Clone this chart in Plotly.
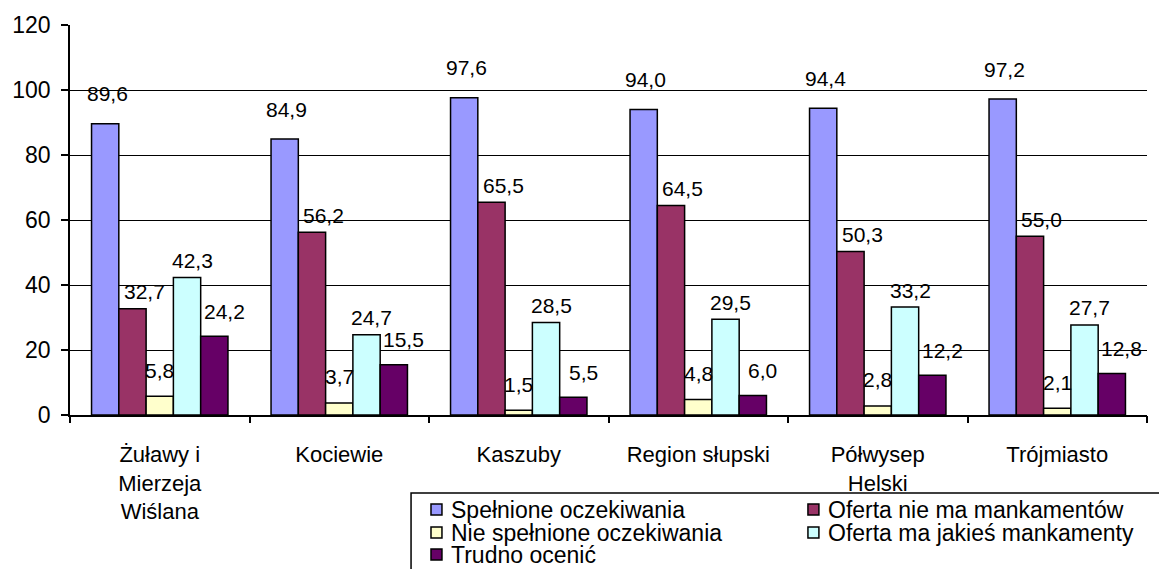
import plotly.graph_objects as go

categories = ["Żuławy i<br>Mierzeja<br>Wiślana", "Kociewie", "Kaszuby",
              "Region słupski", "Półwysep<br>Helski", "Trójmiasto"]
series_names = ["Spełnione oczekiwania", "Oferta nie ma mankamentów",
                "Nie spełnione oczekiwania", "Oferta ma jakieś mankamenty",
                "Trudno ocenić"]
spelnione = [89.6, 84.9, 97.6, 94.0, 94.4, 97.2]
bez_mankamentow = [32.7, 56.2, 65.5, 64.5, 50.3, 55.0]
nie_spelnione = [5.8, 3.7, 1.5, 4.8, 2.8, 2.1]
z_mankamentami = [42.3, 24.7, 28.5, 29.5, 33.2, 27.7]
trudno = [24.2, 15.5, 5.5, 6.0, 12.2, 12.8]
y_ticks = [0, 20, 40, 60, 80, 100, 120]

series_values = [spelnione, bez_mankamentow, nie_spelnione, z_mankamentami, trudno]
colors = ["#9999FF", "#993366", "#FFFFCC", "#CCFFFF", "#660066"]
# label offsets (px) per series, style only
label_dx = [2, 12, 0, 5, 10]
label_dy = [30, 17, 26, 17, 25]

W, H = 1159, 569
L, R, T, B = 67, 12, 25, 154
BARGAP = 0.24
FONT = "Arial, Liberation Sans, sans-serif"

def px_x(p):
    return (p - L) / (W - L - R)

def px_y(p):
    return (H - B - p) / (H - T - B)

fig = go.Figure()
idx = list(range(len(categories)))
for name, vals, col in zip(series_names, series_values, colors):
    fig.add_trace(go.Bar(
        x=idx, y=vals, name=name,
        marker=dict(color=col, line=dict(color="black", width=1.5)),
        showlegend=False,
    ))

nser = len(series_values)
bw = (1 - BARGAP) / nser
annotations = []
for k, vals in enumerate(series_values):
    for i, v in enumerate(vals):
        annotations.append(dict(
            x=i + (k - (nser - 1) / 2) * bw, y=v, xref="x", yref="y",
            text=f"{v:.1f}".replace(".", ","), showarrow=False,
            xanchor="center", yanchor="middle",
            xshift=label_dx[k], yshift=label_dy[k],
            font=dict(family=FONT, size=21, color="black"),
        ))

# manual legend (box, swatches, texts)
shapes = [dict(type="rect", xref="paper", yref="paper",
               x0=px_x(409), x1=px_x(1175), y0=px_y(493), y1=px_y(590),
               line=dict(color="black", width=1.5), fillcolor="white", layer="above")]
col_text_x = [450, 828]
row_y = [510, 533, 555]
for k, (name, col) in enumerate(zip(series_names, colors)):
    c, r = k % 2, k // 2
    tx, ty = col_text_x[c], row_y[r]
    shapes.append(dict(type="rect", xref="paper", yref="paper",
                       x0=px_x(tx - 21), x1=px_x(tx - 10),
                       y0=px_y(ty + 5), y1=px_y(ty - 6),
                       line=dict(color="black", width=1.5), fillcolor=col, layer="above"))
    annotations.append(dict(
        x=px_x(tx - 3), y=px_y(ty), xref="paper", yref="paper",
        text=name, showarrow=False, xanchor="left", yanchor="middle",
        font=dict(family=FONT, size=23, color="black"),
    ))

fig.update_layout(
    width=W, height=H,
    margin=dict(l=L, r=R, t=T, b=B, pad=0),
    paper_bgcolor="white", plot_bgcolor="white",
    barmode="group", bargap=BARGAP, bargroupgap=0,
    font=dict(family=FONT, size=22, color="black"),
    annotations=annotations, shapes=shapes,
    xaxis=dict(
        type="linear", range=[-0.5, len(categories) - 0.5],
        tickmode="array", tickvals=idx, ticktext=categories,
        ticks="", showgrid=False, showline=True, linecolor="black", linewidth=1.5,
        tickfont=dict(family=FONT, size=22, color="black"), ticklabelstandoff=19,
        zeroline=False, fixedrange=True,
    ),
    xaxis2=dict(
        overlaying="x", range=[-0.5, len(categories) - 0.5],
        tickmode="array", tickvals=[i - 0.5 for i in range(len(categories) + 1)],
        ticks="outside", ticklen=7, tickwidth=1.5, tickcolor="black",
        showticklabels=False, showgrid=False, side="bottom", anchor="y",
        zeroline=False,
    ),
    yaxis=dict(
        range=[0, 120], tickvals=y_ticks, showgrid=True, gridcolor="black", gridwidth=1.2,
        ticks="outside", ticklen=7, tickwidth=1.5, tickcolor="black",
        showline=True, linecolor="black", linewidth=1.5, zeroline=False,
        tickfont=dict(family=FONT, size=23, color="black"), ticklabelstandoff=6,
    ),
    showlegend=False,
)
# invisible trace to activate the tick-only axis
fig.add_trace(go.Scatter(x=[0], y=[0], xaxis="x2", mode="markers",
                         marker=dict(opacity=0), showlegend=False, hoverinfo="skip"))
fig.write_html("out.html", config={"displayModeBar": False},
               post_script="document.body.style.margin='0';document.body.style.overflow='hidden';")
